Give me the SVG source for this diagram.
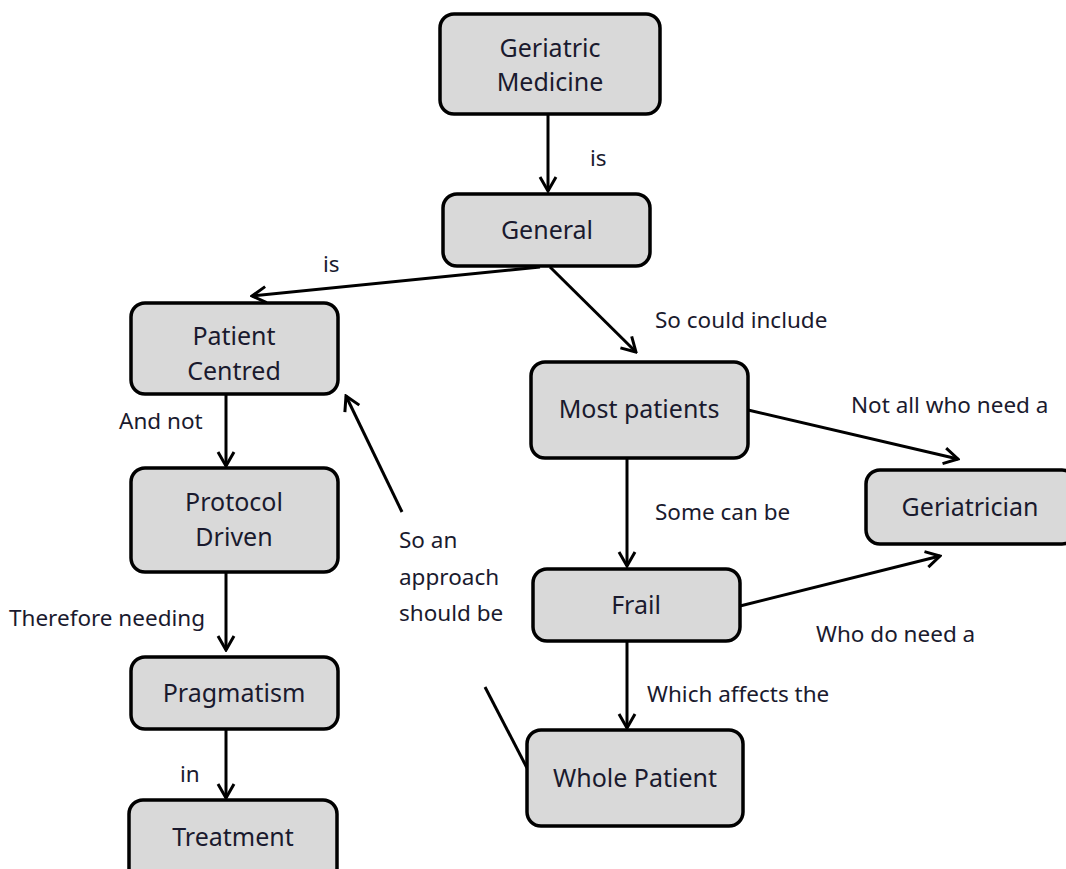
<svg xmlns="http://www.w3.org/2000/svg" width="1066" height="869" viewBox="0 0 1066 869">
<defs>
<marker id="arr" viewBox="0 0 20 20" refX="18" refY="10" markerWidth="20" markerHeight="20" markerUnits="userSpaceOnUse" orient="auto">
<path d="M4,2 L18,10 L4,18" fill="none" stroke="#000" stroke-width="3" stroke-linejoin="miter"/>
</marker>
<style>
.n rect{fill:#d9d9d9;stroke:#000;stroke-width:3.5}
.n text{font-family:"Noto Sans","Open Sans",sans-serif;font-size:25px;fill:#1a1a2e;text-anchor:middle}
.c line{stroke:#000;stroke-width:3}
.l{font-family:"Noto Sans","Open Sans",sans-serif;font-size:22.5px;fill:#1a1a2e}
</style>
</defs>
<rect width="1066" height="869" fill="#fff"/>
<g class="c">
<line x1="548" y1="114" x2="548" y2="191" marker-end="url(#arr)"/>
<line x1="540" y1="267" x2="252" y2="296" marker-end="url(#arr)"/>
<line x1="550" y1="267" x2="636" y2="352" marker-end="url(#arr)"/>
<line x1="226" y1="394" x2="226" y2="466" marker-end="url(#arr)"/>
<line x1="226" y1="572" x2="226" y2="650" marker-end="url(#arr)"/>
<line x1="226" y1="729" x2="226" y2="798" marker-end="url(#arr)"/>
<line x1="627" y1="458" x2="627" y2="566" marker-end="url(#arr)"/>
<line x1="748" y1="410" x2="958" y2="459" marker-end="url(#arr)"/>
<line x1="740" y1="606" x2="940" y2="556" marker-end="url(#arr)"/>
<line x1="627" y1="641" x2="627" y2="728" marker-end="url(#arr)"/>
<line x1="527" y1="768" x2="485" y2="687"/>
<line x1="402" y1="512" x2="346" y2="396" marker-end="url(#arr)"/>
</g>
<g id="geriatric-medicine" class="n"><rect x="440" y="14" width="220" height="100" rx="14"/><text x="550" y="57">Geriatric</text><text x="550" y="91">Medicine</text></g>
<g id="general" class="n"><rect x="443" y="194" width="207" height="72" rx="14"/><text x="547" y="239">General</text></g>
<g id="patient-centred" class="n"><rect x="131" y="303" width="207" height="91" rx="14"/><text x="234" y="345">Patient</text><text x="234" y="380">Centred</text></g>
<g id="protocol-driven" class="n"><rect x="131" y="468" width="207" height="104" rx="14"/><text x="234" y="511">Protocol</text><text x="234" y="546">Driven</text></g>
<g id="pragmatism" class="n"><rect x="131" y="657" width="207" height="72" rx="14"/><text x="234" y="702">Pragmatism</text></g>
<g id="treatment" class="n"><rect x="129" y="800" width="208" height="90" rx="14"/><text x="233" y="846">Treatment</text></g>
<g id="most-patients" class="n"><rect x="531" y="362" width="217" height="96" rx="14"/><text x="639" y="418">Most patients</text></g>
<g id="geriatrician" class="n"><rect x="866" y="470" width="210" height="74" rx="14"/><text x="970" y="516">Geriatrician</text></g>
<g id="frail" class="n"><rect x="533" y="569" width="207" height="72" rx="14"/><text x="636" y="614">Frail</text></g>
<g id="whole-patient" class="n"><rect x="527" y="730" width="216" height="96" rx="14"/><text x="635" y="787">Whole Patient</text></g>
<g id="labels">
<text class="l" x="590" y="166">is</text>
<text class="l" x="323" y="272">is</text>
<text class="l" x="655" y="328">So could include</text>
<text class="l" x="119" y="429">And not</text>
<text class="l" x="9" y="626">Therefore needing</text>
<text class="l" x="180" y="782">in</text>
<text class="l" x="399" y="548">So an</text>
<text class="l" x="399" y="585">approach</text>
<text class="l" x="399" y="621">should be</text>
<text class="l" x="851" y="413">Not all who need a</text>
<text class="l" x="655" y="520">Some can be</text>
<text class="l" x="816" y="642">Who do need a</text>
<text class="l" x="647" y="702">Which affects the</text>
</g>
</svg>
